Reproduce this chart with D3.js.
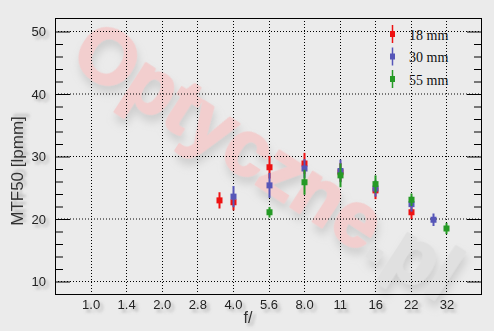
<!DOCTYPE html>
<html>
<head>
<meta charset="utf-8">
<script src="https://cdn.jsdelivr.net/npm/d3@7"></script>
<style>
  body { margin: 0; background: #ebebeb; }
  svg { display: block; }
  .lbl { font-family: "Liberation Sans", Arial, sans-serif; font-size: 13px; fill: #222; }
  .leg { font-family: "Liberation Serif", "DejaVu Serif", serif; font-size: 14px; fill: #111; }
</style>
</head>
<body>
<svg></svg>
<script>
// x ticks (f-number stops) and labels
const xTickLabels = ['1.0', '1.4', '2.0', '2.8', '4.0', '5.6', '8.0', '11', '16', '22', '32'];
const xTickValues = [1, 1.414, 2, 2.828, 4, 5.657, 8, 11.31, 16, 22.63, 32];
const yMajor = [10, 20, 30, 40, 50];
const yMinor = [12, 14, 16, 18, 22, 24, 26, 28, 32, 34, 36, 38, 42, 44, 46, 48];

// series: f-number, MTF50 value, error
const seriesNames = ['18 mm', '30 mm', '55 mm'];
const seriesColors = ['#ee1111', '#5656b8', '#259a25'];

const f18 = [3.5, 4, 5.657, 8, 11.31, 16, 22.63];
const mtf18 = [22.9, 22.6, 28.2, 28.8, 27.4, 24.5, 21.0];
const err18 = [1.3, 1.3, 1.8, 1.7, 1.5, 1.4, 1.1];

const f30 = [4, 5.657, 8, 11.31, 16, 22.63, 28];
const mtf30 = [23.5, 25.3, 28.0, 27.6, 24.8, 22.3, 19.8];
const err30 = [1.7, 2.0, 1.5, 1.8, 1.3, 1.2, 1.0];

const f55 = [5.657, 8, 11.31, 16, 22.63, 32];
const mtf55 = [21.0, 25.8, 26.9, 25.5, 23.0, 18.4];
const err55 = [0.85, 2.0, 1.9, 1.4, 1.0, 0.9];

const w = 494, h = 331;
const L = 55, R = 482, T = 18, B = 294;

const svg = d3.select('svg').attr('width', w).attr('height', h);

const defs = svg.append('defs');
const shadow = defs.append('filter').attr('id', 'sh')
  .attr('x', '-20%').attr('y', '-20%').attr('width', '160%').attr('height', '160%');
shadow.append('feDropShadow').attr('dx', 3).attr('dy', 3).attr('stdDeviation', 1.8)
  .attr('flood-color', '#777').attr('flood-opacity', 0.55);
const wmShadow = defs.append('filter').attr('id', 'wsh')
  .attr('x', '-20%').attr('y', '-20%').attr('width', '140%').attr('height', '140%');
wmShadow.append('feDropShadow').attr('dx', 5).attr('dy', 5).attr('stdDeviation', 4)
  .attr('flood-color', '#999').attr('flood-opacity', 0.35);

const x = d3.scaleLog().base(2)
  .domain([Math.SQRT2 ** -1, Math.SQRT2 ** 11])
  .range([L, R]);
const y = d3.scaleLinear().domain([7.92, 52.08]).range([B, T]);

// watermark
const wm = svg.append('text')
  .attr('transform', `translate(268,160) rotate(33)`)
  .attr('text-anchor', 'middle')
  .attr('dominant-baseline', 'central')
  .attr('font-family', '"Liberation Sans", Arial, sans-serif')
  .attr('font-weight', 'bold')
  .attr('font-size', 78)
  .attr('stroke-width', 2.5)
  .attr('stroke-linejoin', 'round')
  .attr('filter', 'url(#wsh)');
wm.append('tspan').attr('fill', '#f2cece').attr('stroke', '#f2cece').text('Optyczne');
wm.append('tspan').attr('fill', '#e0e0e0').attr('stroke', '#e0e0e0').text('.pl');

// grid
svg.append('g').selectAll('line').data(yMajor).join('line')
  .attr('x1', L).attr('x2', R)
  .attr('y1', d => y(d) + 0.5).attr('y2', d => y(d) + 0.5)
  .attr('stroke', '#000').attr('stroke-dasharray', '1,2');
svg.append('g').selectAll('line').data(xTickValues).join('line')
  .attr('x1', d => Math.round(x(d)) + 0.5).attr('x2', d => Math.round(x(d)) + 0.5)
  .attr('y1', T).attr('y2', B)
  .attr('stroke', '#000').attr('stroke-dasharray', '1,2');

// y axes
const yLeft = svg.append('g').attr('transform', `translate(${L},0.5)`)
  .call(d3.axisLeft(y).tickValues(yMajor).tickSize(-15).tickPadding(9));
yLeft.selectAll('text').attr('class', 'lbl').attr('font-size', null).attr('font-family', null)
  .attr('filter', 'url(#sh)');
svg.append('g').attr('transform', `translate(${L},0.5)`)
  .call(d3.axisLeft(y).tickValues(yMinor).tickSize(-8).tickFormat(''));
svg.append('g').attr('transform', `translate(${R},0.5)`)
  .call(d3.axisRight(y).tickValues(yMajor).tickSize(-15).tickFormat(''));
svg.append('g').attr('transform', `translate(${R},0.5)`)
  .call(d3.axisRight(y).tickValues(yMinor).tickSize(-8).tickFormat(''));
svg.selectAll('.domain').remove();
svg.selectAll('.tick line').attr('stroke', '#000');

// x axis
const xAx = svg.append('g').attr('transform', `translate(0,${B})`)
  .call(d3.axisBottom(x).tickValues(xTickValues).tickFormat((d, i) => xTickLabels[i])
    .tickSize(0).tickPadding(6));
xAx.select('.domain').remove();
xAx.selectAll('text').attr('class', 'lbl').attr('font-size', null).attr('font-family', null)
  .attr('filter', 'url(#sh)');

// frame
svg.append('rect').attr('x', L + 0.5).attr('y', T + 0.5)
  .attr('width', R - L - 1).attr('height', B - T)
  .attr('fill', 'none').attr('stroke', '#000');

// axis titles
svg.append('text').attr('class', 'lbl')
  .attr('transform', `translate(23,171) rotate(-90)`)
  .attr('text-anchor', 'middle')
  .style('font-size', '17px').style('fill', '#333')
  .attr('filter', 'url(#sh)')
  .text('MTF50 [lpmm]');
svg.append('text').attr('class', 'lbl')
  .attr('x', 248).attr('y', 323)
  .attr('text-anchor', 'middle')
  .style('font-size', '16px').style('fill', '#333')
  .attr('filter', 'url(#sh)')
  .text('f/');

// data
const series = [
  {f: f18, v: mtf18, e: err18},
  {f: f30, v: mtf30, e: err30},
  {f: f55, v: mtf55, e: err55}
];
series.forEach((s, si) => {
  const pts = s.f.map((f, i) => ({f, v: s.v[i], e: s.e[i]}));
  const g = svg.append('g');
  g.selectAll('line').data(pts).join('line')
    .attr('x1', d => Math.round(x(d.f)) + 0.5).attr('x2', d => Math.round(x(d.f)) + 0.5)
    .attr('y1', d => y(d.v - d.e)).attr('y2', d => y(d.v + d.e))
    .attr('stroke', seriesColors[si]).attr('stroke-width', 2);
  g.selectAll('rect').data(pts).join('rect')
    .attr('x', d => Math.round(x(d.f)) - 2.5).attr('y', d => y(d.v) - 3)
    .attr('width', 6).attr('height', 6)
    .attr('fill', seriesColors[si]);
});

// legend
const leg = svg.append('g');
seriesNames.forEach((n, i) => {
  const cy = 34 + i * 22.5;
  leg.append('line').attr('x1', 392.5).attr('x2', 392.5)
    .attr('y1', cy - 9).attr('y2', cy + 9)
    .attr('stroke', seriesColors[i]).attr('stroke-width', 1.5);
  leg.append('rect').attr('x', 390).attr('y', cy - 3).attr('width', 5).attr('height', 6)
    .attr('fill', seriesColors[i]);
  leg.append('text').attr('class', 'leg').attr('x', 409).attr('y', cy + 5.5).text(n);
});
</script>
</body>
</html>
